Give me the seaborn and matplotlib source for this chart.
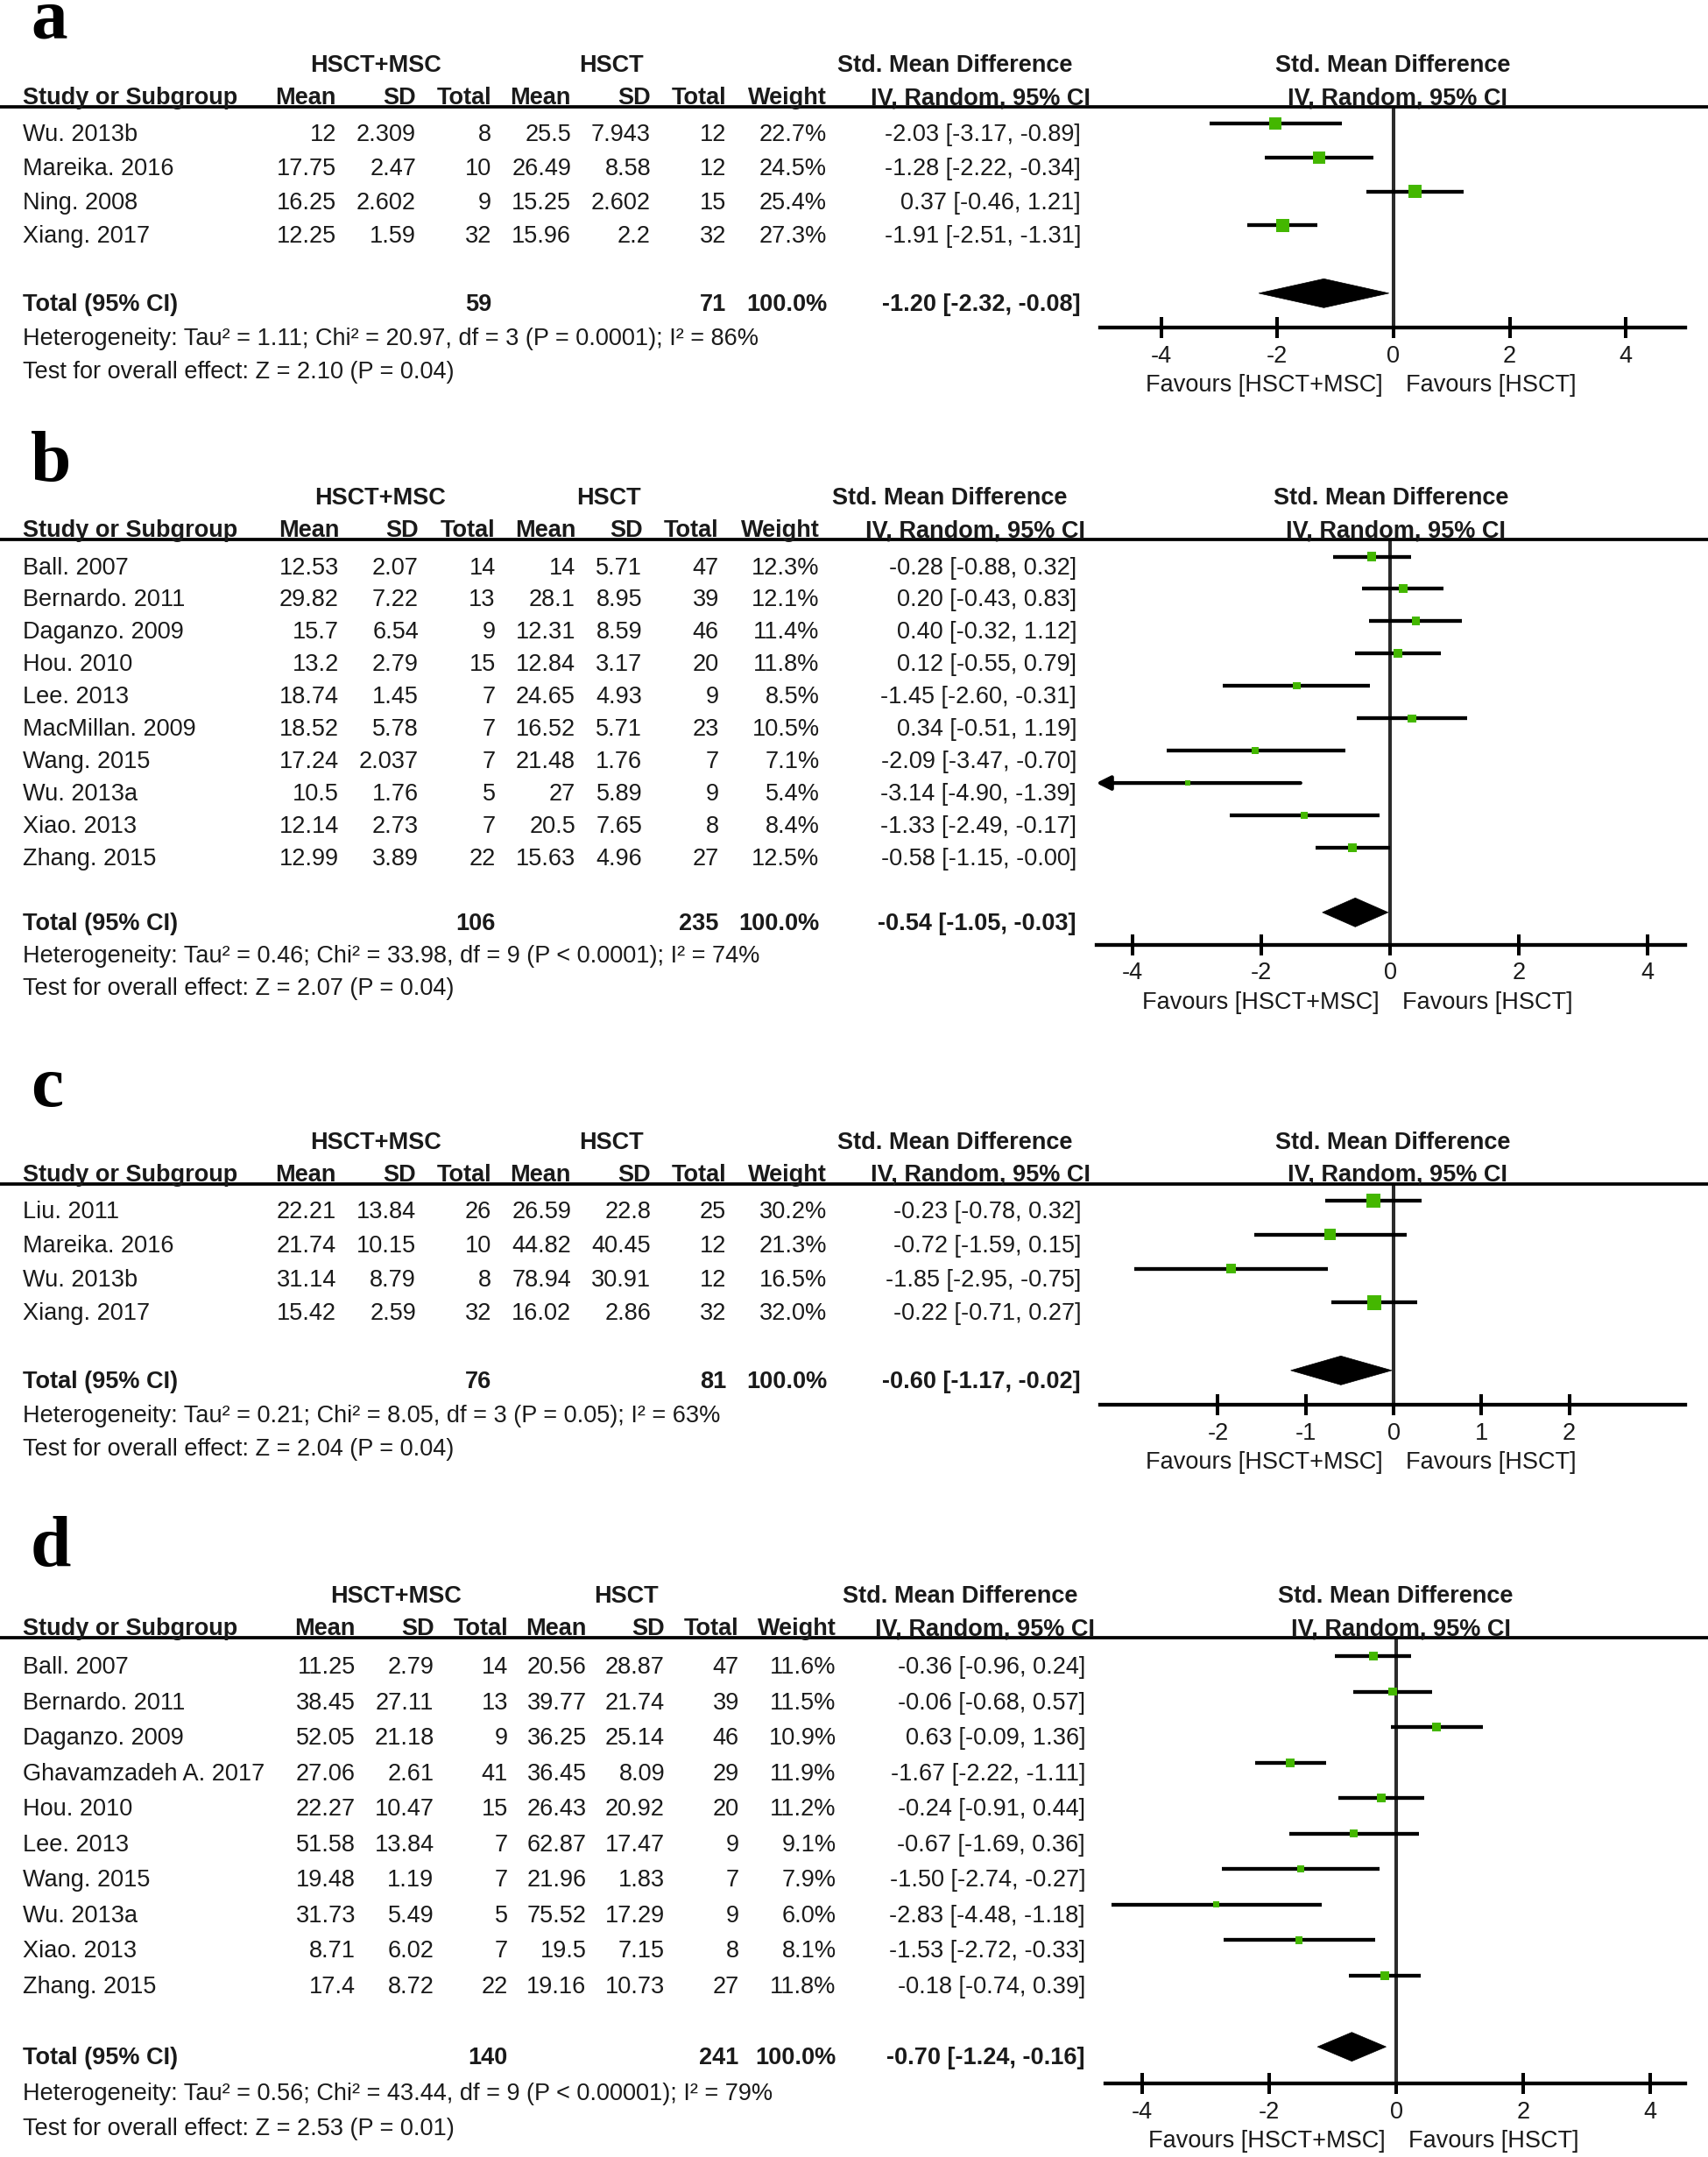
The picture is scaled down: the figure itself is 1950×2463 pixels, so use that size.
import matplotlib
matplotlib.use("Agg")
import matplotlib.pyplot as plt
import matplotlib.transforms as mtransforms
from matplotlib.lines import Line2D
from matplotlib.patches import Polygon
import seaborn as sns
import pandas as pd

# ---------------- data: panel a ----------------
a_study = ["Wu. 2013b", "Mareika. 2016", "Ning. 2008", "Xiang. 2017"]
a_mean1 = [12, 17.75, 16.25, 12.25]
a_sd1 = [2.309, 2.47, 2.602, 1.59]
a_n1 = [8, 10, 9, 32]
a_mean2 = [25.5, 26.49, 15.25, 15.96]
a_sd2 = [7.943, 8.58, 2.602, 2.2]
a_n2 = [12, 12, 15, 32]
a_weight = [22.7, 24.5, 25.4, 27.3]
a_smd = [-2.03, -1.28, 0.37, -1.91]
a_lo = [-3.17, -2.22, -0.46, -2.51]
a_hi = [-0.89, -0.34, 1.21, -1.31]
a_total = [-1.20, -2.32, -0.08]
a_ntot = [59, 71]
a_het = "Heterogeneity: Tau² = 1.11; Chi² = 20.97, df = 3 (P = 0.0001); I² = 86%"
a_test = "Test for overall effect: Z = 2.10 (P = 0.04)"
a_ticks = [-4, -2, 0, 2, 4]

# ---------------- data: panel b ----------------
b_study = ["Ball. 2007", "Bernardo. 2011", "Daganzo. 2009", "Hou. 2010", "Lee. 2013",
           "MacMillan. 2009", "Wang. 2015", "Wu. 2013a", "Xiao. 2013", "Zhang. 2015"]
b_mean1 = [12.53, 29.82, 15.7, 13.2, 18.74, 18.52, 17.24, 10.5, 12.14, 12.99]
b_sd1 = [2.07, 7.22, 6.54, 2.79, 1.45, 5.78, 2.037, 1.76, 2.73, 3.89]
b_n1 = [14, 13, 9, 15, 7, 7, 7, 5, 7, 22]
b_mean2 = [14, 28.1, 12.31, 12.84, 24.65, 16.52, 21.48, 27, 20.5, 15.63]
b_sd2 = [5.71, 8.95, 8.59, 3.17, 4.93, 5.71, 1.76, 5.89, 7.65, 4.96]
b_n2 = [47, 39, 46, 20, 9, 23, 7, 9, 8, 27]
b_weight = [12.3, 12.1, 11.4, 11.8, 8.5, 10.5, 7.1, 5.4, 8.4, 12.5]
b_smd = [-0.28, 0.20, 0.40, 0.12, -1.45, 0.34, -2.09, -3.14, -1.33, -0.58]
b_lo = [-0.88, -0.43, -0.32, -0.55, -2.60, -0.51, -3.47, -4.90, -2.49, -1.15]
b_hi = [0.32, 0.83, 1.12, 0.79, -0.31, 1.19, -0.70, -1.39, -0.17, -0.0]
b_total = [-0.54, -1.05, -0.03]
b_ntot = [106, 235]
b_het = "Heterogeneity: Tau² = 0.46; Chi² = 33.98, df = 9 (P < 0.0001); I² = 74%"
b_test = "Test for overall effect: Z = 2.07 (P = 0.04)"
b_ticks = [-4, -2, 0, 2, 4]

# ---------------- data: panel c ----------------
c_study = ["Liu. 2011", "Mareika. 2016", "Wu. 2013b", "Xiang. 2017"]
c_mean1 = [22.21, 21.74, 31.14, 15.42]
c_sd1 = [13.84, 10.15, 8.79, 2.59]
c_n1 = [26, 10, 8, 32]
c_mean2 = [26.59, 44.82, 78.94, 16.02]
c_sd2 = [22.8, 40.45, 30.91, 2.86]
c_n2 = [25, 12, 12, 32]
c_weight = [30.2, 21.3, 16.5, 32.0]
c_smd = [-0.23, -0.72, -1.85, -0.22]
c_lo = [-0.78, -1.59, -2.95, -0.71]
c_hi = [0.32, 0.15, -0.75, 0.27]
c_total = [-0.60, -1.17, -0.02]
c_ntot = [76, 81]
c_het = "Heterogeneity: Tau² = 0.21; Chi² = 8.05, df = 3 (P = 0.05); I² = 63%"
c_test = "Test for overall effect: Z = 2.04 (P = 0.04)"
c_ticks = [-2, -1, 0, 1, 2]

# ---------------- data: panel d ----------------
d_study = ["Ball. 2007", "Bernardo. 2011", "Daganzo. 2009", "Ghavamzadeh A. 2017", "Hou. 2010",
           "Lee. 2013", "Wang. 2015", "Wu. 2013a", "Xiao. 2013", "Zhang. 2015"]
d_mean1 = [11.25, 38.45, 52.05, 27.06, 22.27, 51.58, 19.48, 31.73, 8.71, 17.4]
d_sd1 = [2.79, 27.11, 21.18, 2.61, 10.47, 13.84, 1.19, 5.49, 6.02, 8.72]
d_n1 = [14, 13, 9, 41, 15, 7, 7, 5, 7, 22]
d_mean2 = [20.56, 39.77, 36.25, 36.45, 26.43, 62.87, 21.96, 75.52, 19.5, 19.16]
d_sd2 = [28.87, 21.74, 25.14, 8.09, 20.92, 17.47, 1.83, 17.29, 7.15, 10.73]
d_n2 = [47, 39, 46, 29, 20, 9, 7, 9, 8, 27]
d_weight = [11.6, 11.5, 10.9, 11.9, 11.2, 9.1, 7.9, 6.0, 8.1, 11.8]
d_smd = [-0.36, -0.06, 0.63, -1.67, -0.24, -0.67, -1.50, -2.83, -1.53, -0.18]
d_lo = [-0.96, -0.68, -0.09, -2.22, -0.91, -1.69, -2.74, -4.48, -2.72, -0.74]
d_hi = [0.24, 0.57, 1.36, -1.11, 0.44, 0.36, -0.27, -1.18, -0.33, 0.39]
d_total = [-0.70, -1.24, -0.16]
d_ntot = [140, 241]
d_het = "Heterogeneity: Tau² = 0.56; Chi² = 43.44, df = 9 (P < 0.00001); I² = 79%"
d_test = "Test for overall effect: Z = 2.53 (P = 0.01)"
d_ticks = [-4, -2, 0, 2, 4]

col_heads = ["Mean", "SD", "Total", "Mean", "SD", "Total", "Weight"]

# layout of each panel, in pixels of the 1950x2463 canvas
lay_a = dict(label_y=43, hdr=122, axis=374, row0=141, sp=38.77, L=1256, R=1924, xlim=(-5.05, 5.02),
             cols=(384, 475, 561, 652, 743, 829, 944, 1234), grp=(428.6, 697.7),
             h1=1224, h2=1245, fc=(1590.6, 1596))
lay_b = dict(label_y=549, hdr=616, axis=1078.7, row0=635.5, sp=36.94, L=1251.5, R=1924, xlim=(-4.56, 4.58),
             cols=(387, 478, 565.7, 657, 733.4, 820.8, 935.6, 1229), grp=(433.7, 694.8),
             h1=1218, h2=1239.4, fc=(1588, 1594))
lay_c = dict(label_y=1263, hdr=1351.7, axis=1604, row0=1371, sp=38.77, L=1256, R=1924, xlim=(-3.34, 3.32),
             cols=(384, 475, 561, 652, 743, 829, 944, 1234), grp=(428.6, 697.7),
             h1=1224, h2=1245, fc=(1590.6, 1596))
lay_d = dict(label_y=1788, hdr=1870, axis=2379, row0=1891, sp=40.56, L=1262, R=1924, xlim=(-4.58, 4.55),
             cols=(406, 495.5, 580, 669.6, 759, 843.7, 954.7, 1239), grp=(452, 715),
             h1=1230, h2=1250, fc=(1593.5, 1599))

sns.set_theme(style="ticks")
plt.rcParams['font.family'] = ['Liberation Sans', 'DejaVu Sans']

W, H = 1950, 2463
TXT = '#1a1a1a'
GREEN = '#44b700'
FS = 19.5

fig = plt.figure(figsize=(W / 100, H / 100), dpi=100)
fig.patch.set_facecolor('white')


def fy(px):
    return 1 - px / H


def panel(letter, lay, study, m1, s1, n1, m2, s2, n2, wt, est, lo, hi, tot, ntot, het, test, ticks):
    n = len(study)
    ax = fig.add_axes([lay['L'] / W, fy(lay['axis']), (lay['R'] - lay['L']) / W,
                       (lay['axis'] - lay['hdr']) / H])
    ax.patch.set_alpha(0)
    rows = list(range(n))
    trow = n + 1
    xmin, xmax = lay['xlim']

    # confidence intervals
    for r, l, h in zip(rows, lo, hi):
        if l < xmin:
            ax.annotate('', xy=(xmin, r), xytext=(h, r),
                        arrowprops=dict(arrowstyle='-|>', color='black', lw=3.1,
                                        mutation_scale=24, shrinkA=0, shrinkB=0))
        else:
            ax.plot([l, h], [r, r], color='black', lw=3.1, solid_capstyle='butt', zorder=2)

    # study estimates, square area by weight
    df = pd.DataFrame({'est': est, 'row': rows, 'w': wt})
    sns.scatterplot(data=df, x='est', y='row', size='w', sizes={w: 4.36 * w for w in wt},
                    marker='s', color=GREEN, edgecolor='none', linewidth=0,
                    legend=False, ax=ax, zorder=3)

    # pooled diamond
    half = 16.5 / lay['sp']
    ax.add_patch(Polygon([(tot[1], trow), (tot[0], trow - half), (tot[2], trow), (tot[0], trow + half)],
                         closed=True, facecolor='black', edgecolor='black', lw=0.5, zorder=3))
    ax.axvline(0, color='#2b2b2b', lw=2.9, zorder=1)

    ax.set_xlim(xmin, xmax)
    ax.set_ylim((lay['axis'] - lay['row0']) / lay['sp'], (lay['hdr'] - lay['row0']) / lay['sp'])
    for s in ['top', 'left', 'right']:
        ax.spines[s].set_visible(False)
    ax.spines['bottom'].set_linewidth(3.1)
    ax.spines['bottom'].set_color('black')
    ax.set_yticks([])
    ax.set_xticks(ticks)
    ax.set_xticklabels([f"{t:d}" for t in ticks])
    ax.tick_params(axis='x', direction='inout', length=17.3, width=2.9, pad=5.5, labelsize=FS,
                   colors='black', labelcolor=TXT, bottom=True, top=False)
    ax.set_xlabel('')
    ax.set_ylabel('')

    # favours labels
    ftr = mtransforms.blended_transform_factory(ax.transData, fig.transFigure)
    yb = fy(lay['axis'] + 73)
    ax.text(0, yb, 'Favours [HSCT+MSC]', ha='right', va='baseline', fontsize=FS, color=TXT,
            transform=ftr + mtransforms.ScaledTranslation(-12 / 100, 0, fig.dpi_scale_trans))
    ax.text(0, yb, 'Favours [HSCT]', ha='left', va='baseline', fontsize=FS, color=TXT,
            transform=ftr + mtransforms.ScaledTranslation(14 / 100, 0, fig.dpi_scale_trans))

    # table rows
    tr = mtransforms.blended_transform_factory(fig.transFigure, ax.transData) + \
        mtransforms.ScaledTranslation(0, -20 / 100, fig.dpi_scale_trans)

    def cell(x, r, s, ha='right', bold=False):
        ax.text(x / W, r, s, transform=tr, ha=ha, va='baseline', fontsize=FS,
                fontweight='bold' if bold else 'normal', color=TXT)

    c = lay['cols']
    for r in rows:
        cell(25.5, r, study[r], ha='left')
        cell(c[0], r, f"{m1[r]:g}")
        cell(c[1], r, f"{s1[r]:g}")
        cell(c[2], r, f"{n1[r]}")
        cell(c[3], r, f"{m2[r]:g}")
        cell(c[4], r, f"{s2[r]:g}")
        cell(c[5], r, f"{n2[r]}")
        cell(c[6], r, f"{wt[r]:.1f}%")
        cell(c[7], r, f"{est[r]:.2f} [{lo[r]:.2f}, {hi[r]:.2f}]")
    cell(25.5, trow, "Total (95% CI)", 'left', True)
    cell(c[2], trow, str(ntot[0]), bold=True)
    cell(c[5], trow, str(ntot[1]), bold=True)
    cell(c[6], trow, "100.0%", bold=True)
    cell(c[7], trow, f"{tot[0]:.2f} [{tot[1]:.2f}, {tot[2]:.2f}]", bold=True)
    cell(25.5, n + 2, het, 'left')
    cell(25.5, n + 3, test, 'left')

    # headers
    y1 = fy(lay['hdr'] - 40)
    y2 = fy(lay['hdr'] - 3)

    def head(x, yb_, s, ha):
        fig.text(x / W, yb_, s, ha=ha, va='baseline', fontsize=FS, fontweight='bold', color=TXT)

    head(lay['grp'][0], y1, 'HSCT+MSC', 'center')
    head(lay['grp'][1], y1, 'HSCT', 'center')
    head(lay['h1'], y1, 'Std. Mean Difference', 'right')
    head(lay['fc'][0], y1, 'Std. Mean Difference', 'center')
    head(25.5, y2, 'Study or Subgroup', 'left')
    for x, s in zip(c[:7], col_heads):
        head(x, y2, s, 'right')
    head(lay['h2'], y2, 'IV, Random, 95% CI', 'right')
    head(lay['fc'][1], y2, 'IV, Random, 95% CI', 'center')
    fig.add_artist(Line2D([0, 1], [fy(lay['hdr'])] * 2, transform=fig.transFigure,
                          color='black', lw=2.7))

    # panel letter
    fig.text(35 / W, fy(lay['label_y']), letter, ha='left', va='baseline', fontsize=60,
             fontweight='bold', family=['Liberation Serif', 'DejaVu Serif'], color='black')


panel('a', lay_a, a_study, a_mean1, a_sd1, a_n1, a_mean2, a_sd2, a_n2, a_weight, a_smd, a_lo, a_hi,
      a_total, a_ntot, a_het, a_test, a_ticks)
panel('b', lay_b, b_study, b_mean1, b_sd1, b_n1, b_mean2, b_sd2, b_n2, b_weight, b_smd, b_lo, b_hi,
      b_total, b_ntot, b_het, b_test, b_ticks)
panel('c', lay_c, c_study, c_mean1, c_sd1, c_n1, c_mean2, c_sd2, c_n2, c_weight, c_smd, c_lo, c_hi,
      c_total, c_ntot, c_het, c_test, c_ticks)
panel('d', lay_d, d_study, d_mean1, d_sd1, d_n1, d_mean2, d_sd2, d_n2, d_weight, d_smd, d_lo, d_hi,
      d_total, d_ntot, d_het, d_test, d_ticks)

fig.savefig('out.png', dpi=100)
